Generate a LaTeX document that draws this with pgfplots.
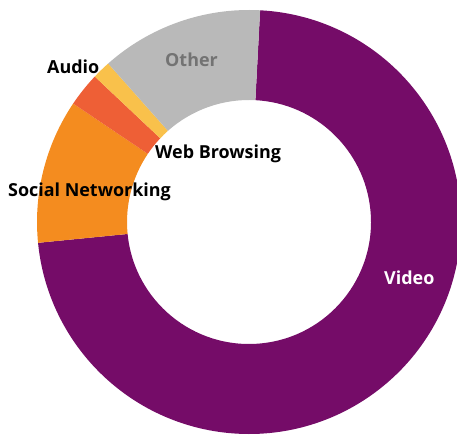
\documentclass[border=0pt]{standalone}
\usepackage{pgfplots}
\usepackage{pgfplotstable}
\pgfplotsset{compat=1.18}
\usepackage{fontspec}
\setmainfont{Open Sans}
\definecolor{cvideo}{HTML}{750C68}
\definecolor{csocial}{HTML}{F48C1F}
\definecolor{cweb}{HTML}{EE5F36}
\definecolor{caudio}{HTML}{F9C14B}
\definecolor{cother}{HTML}{B9B9B9}
\definecolor{othertext}{HTML}{737373}
\pgfplotstableread[col sep=comma]{
label,value,color
Video,72.6,cvideo
Social,11.0,csocial
Web,2.6,cweb
Audio,1.4,caudio
Other,12.4,cother
}\sharedata
\begin{document}
\begin{tikzpicture}
\begin{axis}[
  scale only axis, width=457bp, height=435bp,
  xmin=0, xmax=457, ymin=0, ymax=435,
  hide axis, clip=true,
]
\xdef\start{87}
\pgfplotsinvokeforeach{0,...,4}{
  \pgfplotstablegetelem{#1}{value}\of\sharedata
  \pgfmathsetmacro\val{\pgfplotsretval}
  \pgfplotstablegetelem{#1}{color}\of\sharedata
  \edef\col{\pgfplotsretval}
  \pgfmathsetmacro\stopang{\start-3.6*\val}
  \edef\cmd{\noexpand\fill[\col] ([shift={(\start:212bp)}]axis cs:249,213) arc[start angle=\start, end angle=\stopang, radius=212bp] -- ([shift={(\stopang:122bp)}]axis cs:249,213) arc[start angle=\stopang, end angle=\start, radius=122bp] -- cycle;}
  \cmd
  \xdef\start{\stopang}
}
\tikzset{lbl/.style={anchor=base west, inner sep=0pt, font=\fontsize{18}{21}\selectfont\bfseries}}
\node[lbl, text=othertext] at (axis cs:165,368) {Other};
\node[lbl] at (axis cs:47,361) {Audio};
\node[lbl] at (axis cs:155,276) {Web Browsing};
\node[lbl] at (axis cs:8,238) {Social Networking};
\node[lbl, text=white] at (axis cs:384,150) {Video};
\end{axis}
\path (current axis.south west) rectangle (current axis.north east);
\end{tikzpicture}
\end{document}
